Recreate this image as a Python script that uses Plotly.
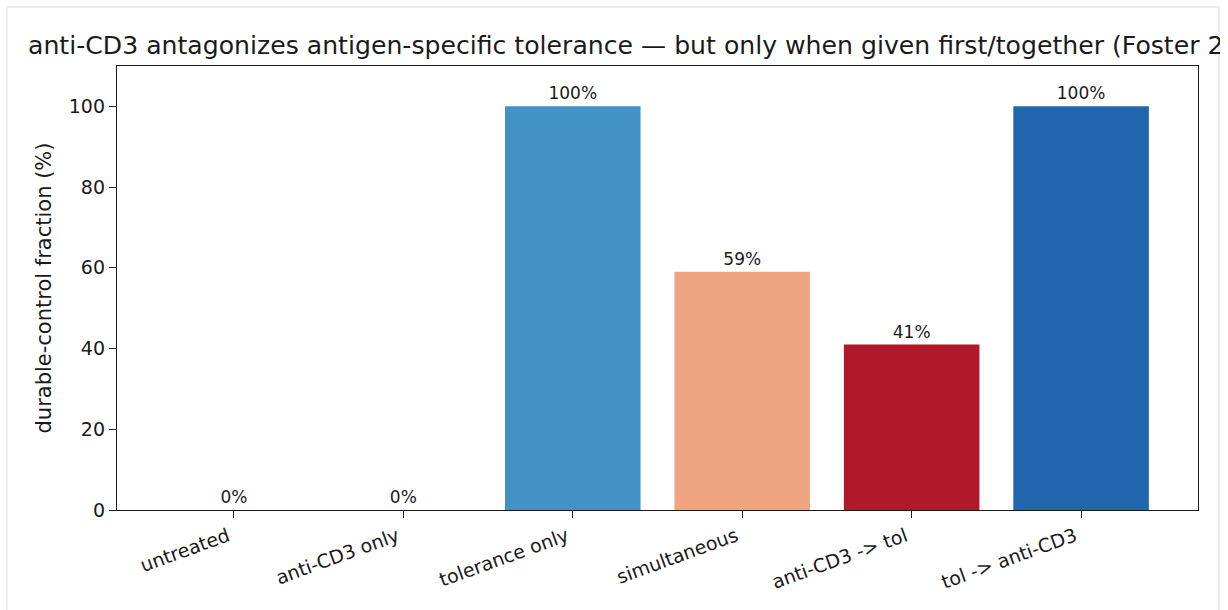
import plotly.graph_objects as go

# Treatment groups and the fraction of animals with durable control
groups = ["untreated", "anti-CD3 only", "tolerance only", "simultaneous",
          "anti-CD3 -> tol", "tol -> anti-CD3"]
durable_pct = [0, 0, 100, 59, 41, 100]
bar_colors = ["#f7f7f7", "#d1e5f0", "#4292c6", "#f0a582", "#b2182b", "#2166ac"]
y_ticks = [0, 20, 40, 60, 80, 100]

W, H = 1220, 610
ML, MR, MT, MB = 117, 22, 66, 100
PW, PH = W - ML - MR, H - MT - MB

FONT = "DejaVu Sans"

fig = go.Figure(go.Bar(
    x=list(range(len(groups))),
    y=durable_pct,
    width=0.8,
    marker=dict(color=bar_colors, line=dict(width=0)),
    text=[f"{v}%" for v in durable_pct],
    textposition="outside",
    constraintext="none",
    cliponaxis=False,
    textfont=dict(family=FONT, size=17, color="#1a1a1a"),
))

# light frame around the figure area
fig.add_shape(type="rect", xref="paper", yref="paper",
              x0=(7 - ML) / PW, x1=(1219 - ML) / PW,
              y0=(H - MB - 640) / PH, y1=(H - MB - 7) / PH,
              line=dict(color="#e8e8e8", width=1.5), fillcolor="rgba(0,0,0,0)",
              layer="below")

fig.update_layout(
    width=W, height=H,
    margin=dict(l=ML, r=MR, t=MT, b=MB, pad=0),
    paper_bgcolor="white", plot_bgcolor="white",
    showlegend=False,
    bargap=0.2,
    font=dict(family=FONT, color="#1a1a1a"),
    title=dict(
        text="anti-CD3 antagonizes antigen-specific tolerance \u2014 but only when given first/together (Foster 2019)",
        font=dict(family=FONT, size=25.15, color="#1a1a1a"),
        x=28 / W, xref="container", xanchor="left",
        y=1 - 45 / H, yref="container", yanchor="middle",
    ),
    xaxis=dict(
        range=[-0.69, 5.69],
        tickmode="array", tickvals=list(range(len(groups))), ticktext=groups,
        tickangle=-20,
        ticklabelshift=-6,
        tickfont=dict(family=FONT, size=19, color="#1a1a1a"),
        ticks="outside", ticklen=7, tickwidth=1.3, tickcolor="#1a1a1a",
        showline=True, linecolor="#1a1a1a", linewidth=1.3, mirror=True,
        showgrid=False, zeroline=False,
    ),
    yaxis=dict(
        range=[0, 110],
        tickmode="array", tickvals=y_ticks,
        tickfont=dict(family=FONT, size=19, color="#1a1a1a"),
        ticks="outside", ticklen=7, tickwidth=1.3, tickcolor="#1a1a1a",
        showline=True, linecolor="#1a1a1a", linewidth=1.3, mirror=True,
        showgrid=False, zeroline=False,
        title=dict(text="durable-control fraction (%)",
                   font=dict(family=FONT, size=21, color="#1a1a1a"), standoff=11),
    ),
)

fig.write_html("out.html")
